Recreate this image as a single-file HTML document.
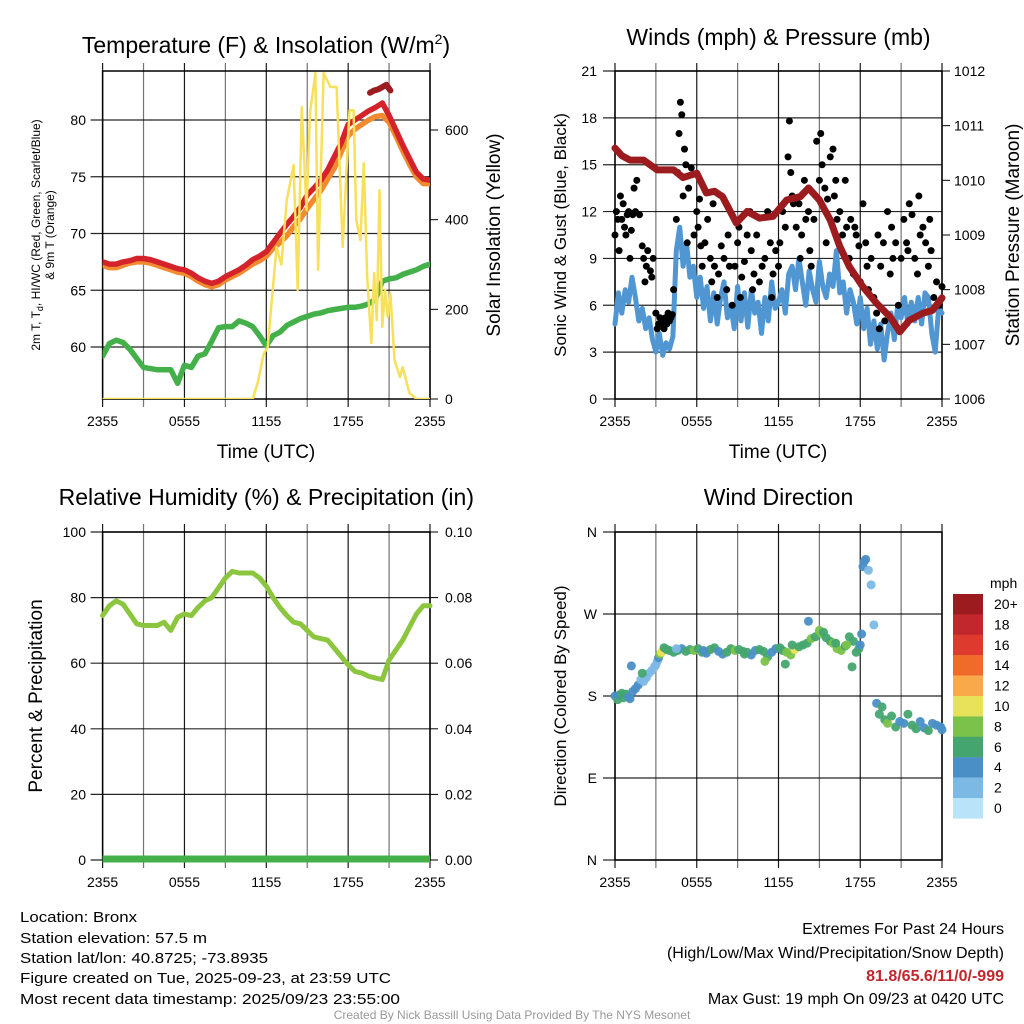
<!DOCTYPE html>
<html><head><meta charset="utf-8"><style>
html,body{margin:0;padding:0;background:#fff;}
svg{display:block;font-family:"Liberation Sans",Arial,sans-serif;}
</style></head><body>
<svg id="chart" width="1024" height="1024" viewBox="0 0 1024 1024" xmlns="http://www.w3.org/2000/svg">
<rect x="0" y="0" width="1024" height="1024" fill="#fff"/>
<g id="g1"></g>
<g id="g2"></g>
<g id="g3"></g>
<g id="g4"></g>
<g font-size="15" fill="#000">
<text x="20" y="922" textLength="117" lengthAdjust="spacingAndGlyphs">Location: Bronx</text>
<text x="20" y="943" textLength="187" lengthAdjust="spacingAndGlyphs">Station elevation: 57.5 m</text>
<text x="20" y="963" textLength="248" lengthAdjust="spacingAndGlyphs">Station lat/lon: 40.8725; -73.8935</text>
<text x="20" y="983" textLength="371" lengthAdjust="spacingAndGlyphs">Figure created on Tue, 2025-09-23, at 23:59 UTC</text>
<text x="20" y="1004" textLength="380" lengthAdjust="spacingAndGlyphs">Most recent data timestamp: 2025/09/23 23:55:00</text>
</g>
<g font-size="16" fill="#000" text-anchor="end">
<text x="1004" y="934">Extremes For Past 24 Hours</text>
<text x="1004" y="958">(High/Low/Max Wind/Precipitation/Snow Depth)</text>
<text x="1004" y="981" fill="#c1272d" font-weight="bold">81.8/65.6/11/0/-999</text>
<text x="1004" y="1004">Max Gust: 19 mph On 09/23 at 0420 UTC</text>
</g>
<text x="512" y="1019" font-size="12" fill="#999" text-anchor="middle">Created By Nick Bassill Using Data Provided By The NYS Mesonet</text>
</svg>
<script>
// ---------- data ----------
const xTickLabels = ["2355","0555","1155","1755","2355"];
const tHalf = [0,0.5,1,1.5,2,2.5,3,3.5,4,4.5,5,5.5,6,6.5,7,7.5,8,8.5,9,9.5,10,10.5,11,11.5,12,12.5,13,13.5,14,14.5,15,15.5,16,16.5,17,17.5,18,18.5,19,19.5,20,20.5,21,21.5,22,22.5,23,23.5,24];
const temp2m = [67.5,67.3,67.3,67.5,67.6,67.8,67.8,67.7,67.5,67.3,67.1,66.9,66.8,66.5,66.1,65.8,65.6,65.8,66.2,66.5,66.8,67.2,67.7,68.0,68.4,69.2,70.0,70.8,71.5,72.3,73.4,74.0,74.7,75.6,76.8,78.0,79.6,80.0,80.4,80.8,81.1,81.5,80.4,79.1,77.8,76.6,75.4,74.8,74.7];
const temp9m = [67.2,67.0,67.0,67.2,67.4,67.5,67.5,67.4,67.2,67.0,66.8,66.6,66.5,66.2,65.8,65.5,65.3,65.5,65.9,66.2,66.5,66.9,67.3,67.6,68.0,68.7,69.2,69.8,70.6,71.3,72.2,73.0,73.8,74.8,75.8,77.2,78.6,79.2,79.6,80.0,80.3,80.4,79.8,78.6,77.3,76.1,75.0,74.4,74.4];
const dewpt = [59.2,60.3,60.6,60.4,59.8,59.0,58.2,58.1,58.0,58.0,58.0,56.8,58.4,58.2,59.2,59.4,60.5,61.7,61.8,61.8,62.3,62.1,61.8,61.0,60.1,61.0,61.3,61.9,62.2,62.5,62.7,62.9,63.0,63.2,63.3,63.4,63.5,63.5,63.6,63.8,64.2,65.8,66.0,66.1,66.4,66.6,66.8,67.1,67.3];
const tHeat = [19.6,19.9,20.2,20.5,20.8,21.1];
const heatIdx = [82.4,82.6,82.7,82.9,83.1,82.6];
const tSolar = [0,11.0,11.4,11.8,12.1,12.4,12.75,13.1,13.5,14.0,14.3,14.6,14.95,15.2,15.6,15.8,16.2,16.7,17.15,17.6,18.1,18.4,18.6,18.9,19.15,19.4,19.7,19.9,20.1,20.3,20.5,20.7,20.9,21.1,21.4,21.8,22.0,22.5,23.0,24];
const solar = [0,0,40,100,116,220,339,300,444,522,243,651,421,638,727,288,727,696,696,339,644,644,399,354,526,272,125,281,176,466,161,243,183,236,87,49,71,13,0,0];
const tempTicks = [60,65,70,75,80];
const solarTicks = [0,200,400,600];

const tWind = Array.from({length:97},(_, i)=>i*0.25);
const windSpd = [4.8,6.8,5.5,7.0,6.2,7.8,6.5,5.0,5.8,4.5,5.2,3.8,3.0,4.2,2.8,3.6,3.2,4.0,9.5,11.0,8.5,10.0,7.8,8.5,6.5,7.8,5.8,7.2,5.0,6.8,4.8,6.5,7.5,5.2,6.0,4.5,7.2,5.0,6.8,4.6,7.0,5.5,6.2,4.2,6.5,5.0,7.5,5.8,6.2,7.0,5.5,8.0,8.5,7.0,9.0,7.5,6.0,8.2,7.0,6.2,8.8,7.2,6.5,8.0,7.2,9.5,6.8,7.5,5.5,7.0,6.2,4.8,6.5,4.5,5.8,3.5,5.0,3.2,4.8,2.5,4.2,5.5,3.8,6.0,5.2,6.5,4.8,6.2,5.0,6.5,4.8,6.8,6.5,4.2,3.0,5.8,5.5];
const tGust = [0.0,0.1,0.2,0.3,0.4,0.5,0.6,0.7,0.8,0.9,1.0,1.1,1.2,1.3,1.5,1.6,1.8,2.0,2.1,2.3,2.4,2.6,2.7,2.8,3.0,3.1,3.2,3.3,3.4,3.5,3.6,3.7,3.8,3.9,4.0,4.1,4.2,4.3,4.5,4.6,4.7,4.8,4.9,5.0,5.1,5.2,5.4,5.6,5.8,6.0,6.1,6.3,6.4,6.6,6.8,7.0,7.1,7.3,7.5,7.6,7.8,8.0,8.2,8.4,8.6,8.8,9.0,9.1,9.3,9.5,9.7,9.9,10.0,10.2,10.4,10.6,10.8,11.0,11.2,11.4,11.6,11.8,12.0,12.1,12.3,12.5,12.7,12.8,12.9,13.0,13.1,13.3,13.5,13.7,13.9,14.0,14.2,14.4,14.6,14.8,15.0,15.1,15.2,15.4,15.6,15.8,16.0,16.1,16.3,16.5,16.7,16.9,17.0,17.2,17.3,17.5,17.7,17.9,18.0,18.2,18.4,18.6,18.8,19.0,19.2,19.4,19.5,19.7,19.8,20.0,20.2,20.4,20.6,20.8,21.0,21.2,21.4,21.6,21.8,22.0,22.2,22.4,22.6,22.8,23.0,23.2,23.4,23.6,23.8,24.0,23.1,22.3,21.5,20.3,19.3,18.5,17.6,16.2,15.5,14.3,13.6,11.5,10.1,9.2,8.3,7.2,6.2,5.3,2.2,1.4];
const gust = [10.5,12.0,11.5,9.5,13.0,11.5,12.5,11.0,10.5,11.8,12.0,9.0,10.8,11.8,12.0,14.0,11.8,9.8,9.0,8.5,9.5,8.2,7.8,9.0,5.5,4.5,4.8,5.2,4.8,5.0,4.5,5.2,4.8,5.5,5.0,5.2,5.4,7.0,11.5,14.5,17.0,19.0,18.2,13.0,16.0,15.0,13.5,14.8,10.5,12.0,11.0,9.8,8.5,10.0,11.5,9.0,7.5,8.5,6.5,8.0,9.8,9.0,7.0,8.5,6.0,8.5,10.0,11.0,7.8,8.8,10.5,12.0,9.5,8.0,10.5,7.5,8.5,9.0,12.0,10.0,8.0,9.5,8.5,10.0,12.0,11.0,15.5,17.8,14.5,13.0,12.5,11.0,12.5,10.5,14.0,11.5,12.0,8.5,11.5,16.5,14.0,17.0,15.0,13.5,12.8,15.5,16.0,13.0,11.5,12.0,10.5,14.0,11.0,9.0,11.5,8.0,10.5,9.8,7.5,12.5,10.0,7.0,9.0,6.5,5.5,4.5,8.5,10.0,5.0,12.0,8.0,9.0,10.0,6.0,9.0,11.5,10.0,12.5,11.8,9.0,8.0,10.5,11.0,10.0,8.5,9.5,6.5,7.5,6.0,7.2,11.5,13.0,9.5,11.0,10.5,8.5,11.0,14.0,10.0,9.5,9.0,6.5,7.0,6.5,10.5,12.5,12.8,10.0,7.5,13.5];
const tPres = [0,0.5,1.1,2.1,3.1,4.3,5.0,6.0,6.7,7.3,7.9,8.9,9.7,10.6,11.6,12.6,13.6,14.2,15.0,15.8,16.5,17.2,18.2,19.2,20.2,20.9,21.6,22.6,23.3,24];
const pressure = [1010.59,1010.45,1010.37,1010.37,1010.19,1010.19,1010.05,1010.13,1009.77,1009.80,1009.70,1009.22,1009.43,1009.31,1009.34,1009.64,1009.70,1009.86,1009.64,1009.27,1008.79,1008.42,1008.05,1007.75,1007.50,1007.23,1007.44,1007.57,1007.62,1007.85];
const windTicks = [0,3,6,9,12,15,18,21];
const presTicks = [1006,1007,1008,1009,1010,1011,1012];

const rh = [74.5,77.5,79,78,75,72,71.5,71.5,71.5,72.5,70,74,75,74.5,77,79,80,83,86,88,87.5,87.5,87.5,86,83.5,80,77,74.5,72.5,72,70,68,67.5,67,64.5,62,59.5,57.5,57,56,55.5,55,61,64,67,71,75,77.5,77.5];
const rhTicks = [0,20,40,60,80,100];
const precipTicks = ["0.00","0.02","0.04","0.06","0.08","0.10"];

const tDir = [0,0.2,0.3,0.5,0.6,0.8,1.0,1.1,1.3,1.5,1.7,1.9,2.1,2.3,2.5,2.7,2.9,3.0,3.1,3.2,3.3,3.4,3.5,3.6,3.8,4.0,4.3,4.6,4.9,5.2,5.5,5.8,6.1,6.4,6.7,7.0,7.3,7.6,7.9,8.2,8.5,8.8,9.1,9.4,9.7,10.0,10.3,10.6,10.9,11.2,11.5,11.8,12.1,12.3,12.6,12.9,13.2,13.5,13.8,14.1,14.4,14.7,15.0,15.2,15.5,15.8,16.0,16.3,16.6,16.9,17.2,17.5,17.7,17.9,18.0,18.1,18.2,18.3,18.4,18.6,18.8,19.0,19.2,19.4,19.6,19.8,20.0,20.3,20.6,20.9,21.2,21.5,21.8,22.1,22.4,22.7,23.0,23.3,23.6,23.9,24.0,1.2,2.0,4.5,6.5,9.5,11.0,12.5,13.0,14.2,15.3,16.2,17.0,17.4];
const dirDeg = [180,176,181,183,178,182,179,177,185,188,192,198,196,200,205,208,212,214,218,222,226,228,229,233,231,230,228,230,232,229,231,230,232,228,227,231,233,229,226,228,232,230,231,229,228,225,230,231,229,223,228,232,233,230,228,225,231,234,236,238,243,245,252,248,244,240,238,232,230,235,245,240,228,232,236,248,322,328,330,318,302,258,172,160,168,154,150,158,146,152,150,160,148,144,152,145,142,150,148,146,143,213,205,232,230,226,218,215,236,262,250,238,236,212];
const dirSpd = [4,6,5,6,7,6,5,4,4,4,5,3,3,2,2,3,2,2,3,4,9,10,10,7,6,6,7,6,5,6,7,8,6,6,5,7,6,5,4,6,7,8,6,7,6,5,4,6,7,6,5,4,6,6,8,9,10,7,6,7,8,7,9,8,7,7,8,9,8,7,6,6,6,7,5,4,5,4,4,2,2,2,5,6,6,7,8,6,6,5,4,6,6,6,5,4,6,5,4,4,4,4,6,2,4,6,8,6,7,5,6,7,8,6,5];
const cbLabels = ["20+","18","16","14","12","10","8","6","4","2","0"];
const cbColors = ["#9b1b1e","#c1272d","#de3a2e","#f06a2a","#f9a94a","#e8e25a","#7ac24a","#45a56f","#4a8fc6","#7db9e5","#b8e3f8"];

// ---------- helpers ----------
const NS="http://www.w3.org/2000/svg";
function mk(parent, tag, attrs, txt){
  const e=document.createElementNS(NS,tag);
  for(const k in attrs) e.setAttribute(k,attrs[k]);
  if(txt!==undefined) e.textContent=txt;
  parent.appendChild(e); return e;
}
function lin(d0,d1,r0,r1){return v=>r0+(v-d0)/(d1-d0)*(r1-r0);}
function speedColor(s){let i=Math.min(10,Math.floor(s/2));return cbColors[10-i];}

function frame(g,P,sx,leftTicks,sy,title,titleY){
  for(let h=0;h<=24;h+=3){
    const x=sx(h);
    const l=mk(g,'line',{x1:x,x2:x,y1:P.y0-8,y2:P.y1+8,stroke:'#000','stroke-width':1.2,'stroke-opacity':(h%6===0?0.9:0.55)});
    
    
  }
  for(const v of leftTicks){
    const y=sy(v);
    const l=mk(g,'line',{x1:P.x0-12,x2:P.x1,y1:y,y2:y,stroke:'#000','stroke-width':1.2,'stroke-opacity':0.85});
    
    
  }
  const r=mk(g,'rect',{x:P.x0,y:P.y0,width:P.x1-P.x0,height:P.y1-P.y0,fill:'none',stroke:'#000','stroke-width':1.5});
  
  
  xTickLabels.forEach((lab,i)=>{
    const t=mk(g,'text',{x:sx(i*6),y:P.y1+27,'font-size':14,'text-anchor':'middle'},lab);
    
    
  });
  if(title){
    const tt=mk(g,'text',{x:(P.x0+P.x1)/2,y:titleY,'font-size':23,'text-anchor':'middle'},title);
    
    
  }
}
function vlabel(g,x,y,txt,size,name){
  const t=mk(g,'text',{x:x,y:y,'font-size':size,'text-anchor':'middle',transform:`rotate(-90 ${x} ${y})`},txt);
  
  
  return t;
}
function polyline(g,xs,ys,sx,sy,color,w,name){
  const pts=xs.map((t,i)=>sx(t).toFixed(1)+','+sy(ys[i]).toFixed(1)).join(' ');
  const p=mk(g,'polyline',{points:pts,fill:'none',stroke:color,'stroke-width':w,'stroke-linejoin':'round','stroke-linecap':'round'});
  
  
}

// ---------- panel 1 ----------
(function(){
  const g=document.getElementById('g1');
  const P={x0:102.6,x1:430,y0:71,y1:399};
  const sx=lin(0,24,P.x0,P.x1);
  const sy=lin(60,80,347,120);
  const sr=lin(0,600,399,130);
  frame(g,P,sx,tempTicks,sy,'',53);
  const tt=mk(g,'text',{x:266,y:53,'font-size':23,'text-anchor':'middle'});
  
  
  tt.innerHTML='Temperature (F) &amp; Insolation (W/m<tspan font-size="14" dy="-9">2</tspan><tspan dy="9">)</tspan>';
  tempTicks.forEach(v=>{const t=mk(g,'text',{x:86,y:sy(v)+5,'font-size':14,'text-anchor':'end'},v);
    
    });
  solarTicks.forEach(v=>{mk(g,'line',{x1:P.x1,x2:P.x1+8,y1:sr(v),y2:sr(v),stroke:'#000'});
    const t=mk(g,'text',{x:445,y:sr(v)+5,'font-size':14},v);
    
    });
  const yl=mk(g,'text',{'font-size':12,'text-anchor':'middle',transform:'translate(40,235) rotate(-90)'});
  
  
  yl.innerHTML='<tspan x="0" y="0">2m T, T<tspan font-size="9" dy="3">d</tspan><tspan dy="-3">, HI/WC (Red, Green, Scarlet/Blue)</tspan></tspan><tspan x="0" y="14">&amp; 9m T (Orange)</tspan>';
  vlabel(g,500,235,'Solar Insolation (Yellow)',19,'right-axis-title');
  const xl=mk(g,'text',{x:266,y:458,'font-size':19,'text-anchor':'middle'},'Time (UTC)');
  
  
  const clip=mk(g,'clipPath',{id:'c1'});mk(clip,'rect',{x:P.x0,y:P.y0,width:P.x1-P.x0,height:P.y1-P.y0});
  const d=mk(g,'g',{'clip-path':'url(#c1)'});
  polyline(d,tHalf,dewpt,sx,sy,'#43b04a',5.5,'dewpoint-line');
  polyline(d,tHalf,temp9m,sx,sy,'#f28a30',5.5,'temp-9m-line');
  polyline(d,tHalf,temp2m,sx,sy,'#d4232b',5.5,'temp-2m-line');
  polyline(d,tHeat,heatIdx,sx,sy,'#9b1b1e',6,'heat-index-line');
  polyline(d,tSolar,solar,sx,sr,'#f8e05a',2.5,'insolation-line');
})();

// ---------- panel 2 ----------
(function(){
  const g=document.getElementById('g2');
  const P={x0:615,x1:942,y0:71,y1:399};
  const sx=lin(0,24,P.x0,P.x1);
  const sy=lin(0,21,399,71);
  const sp=lin(1006,1012,399,71);
  frame(g,P,sx,windTicks,sy,'Winds (mph) & Pressure (mb)',45);
  windTicks.forEach(v=>{const t=mk(g,'text',{x:597,y:sy(v)+5,'font-size':14,'text-anchor':'end'},v);
    
    });
  presTicks.forEach(v=>{mk(g,'line',{x1:P.x1,x2:P.x1+8,y1:sp(v),y2:sp(v),stroke:'#000'});
    const t=mk(g,'text',{x:954,y:sp(v)+5,'font-size':14},v);
    
    });
  vlabel(g,566,235,'Sonic Wind & Gust (Blue, Black)',17,'y-axis-title');
  vlabel(g,1019,235,'Station Pressure (Maroon)',19,'right-axis-title');
  const xl=mk(g,'text',{x:778,y:458,'font-size':19,'text-anchor':'middle'},'Time (UTC)');
  
  
  polyline(g,tWind,windSpd,sx,sy,'#4f96d2',5,'wind-speed-line');
  tGust.forEach((t,i)=>{
    const c=mk(g,'circle',{cx:sx(t),cy:sy(gust[i]),r:3.5,fill:'#000'});
    
    
  });
  polyline(g,tPres,pressure,sx,sp,'#9b1b1e',7,'pressure-line');
})();

// ---------- panel 3 ----------
(function(){
  const g=document.getElementById('g3');
  const P={x0:102.6,x1:430,y0:532,y1:860};
  const sx=lin(0,24,P.x0,P.x1);
  const sy=lin(0,100,860,532);
  frame(g,P,sx,rhTicks,sy,'Relative Humidity (%) & Precipitation (in)',505);
  rhTicks.forEach(v=>{const t=mk(g,'text',{x:86,y:sy(v)+5,'font-size':14,'text-anchor':'end'},v);
    
    });
  precipTicks.forEach((v,i)=>{const y=sy(i*20);mk(g,'line',{x1:P.x1,x2:P.x1+8,y1:y,y2:y,stroke:'#000'});
    const t=mk(g,'text',{x:445,y:y+5,'font-size':14},v);
    
    });
  vlabel(g,42,696,'Percent & Precipitation',19,'y-axis-title');
  polyline(g,tHalf,rh,sx,sy,'#8cc63f',5,'rh-line');
  const pr=mk(g,'line',{x1:P.x0,x2:P.x1,y1:859,y2:859,stroke:'#43b04a','stroke-width':7});
  
  
})();

// ---------- panel 4 ----------
(function(){
  const g=document.getElementById('g4');
  const P={x0:615,x1:942,y0:532,y1:860};
  const sx=lin(0,24,P.x0,P.x1);
  const sy=lin(0,360,860,532);
  const dirTicks=[0,90,180,270,360], dirLabels=['N','E','S','W','N'];
  frame(g,P,sx,dirTicks,sy,'Wind Direction',505);
  dirTicks.forEach((v,i)=>{const t=mk(g,'text',{x:597,y:sy(v)+5,'font-size':14,'text-anchor':'end'},dirLabels[i]);
    
    });
  vlabel(g,566,696,'Direction (Colored By Speed)',17,'y-axis-title');
  tDir.forEach((t,i)=>{
    const c=mk(g,'circle',{cx:sx(t),cy:sy(dirDeg[i]),r:4.5,fill:speedColor(dirSpd[i]),'fill-opacity':0.95});
    
    
  });
  const cb=mk(g,'g',{});
  
  
  mk(cb,'text',{x:990,y:588,'font-size':14},'mph');
  cbColors.forEach((c,i)=>{
    const y=594+i*20.4;
    mk(cb,'rect',{x:953,y:y,width:30,height:20.6,fill:c});
    const t=mk(cb,'text',{x:994,y:y+15,'font-size':14},cbLabels[i]);
    
    
  });
})();
</script>
</body></html>
